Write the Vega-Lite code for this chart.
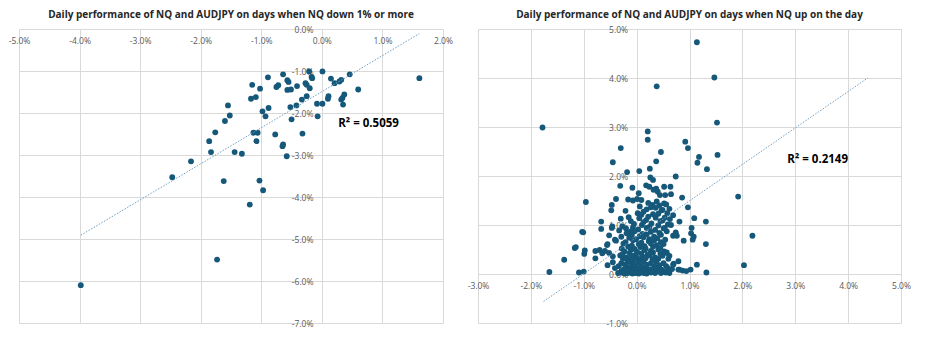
{
  "$schema": "https://vega.github.io/schema/vega-lite/v6.json",
  "background": "white",
  "padding": {"left": 8, "top": 10, "right": 5, "bottom": 5},
  "spacing": 35,
  "bounds": "flush",
  "config": {
    "view": {"stroke": null},
    "axis": {
      "grid": true, "gridColor": "#d9d9d9", "gridWidth": 1,
      "domain": false, "ticks": false, "tickSize": 0,
      "labelColor": "#595959", "labelFont": "Open Sans", "labelFontSize": 8.5,
      "labelOverlap": false, "labelFlush": false, "title": null,
      "labelExpr": "(datum.value < 0 ? '-' : '') + format(abs(datum.value), '.1f') + '%'"
    },
    "title": {"font": "Open Sans", "fontSize": 10, "fontWeight": "bold", "color": "#262626", "anchor": "middle", "frame": "group", "offset": 5}
  },
  "datasets": {
    "down": [
      {"audjpy": 1.61, "nq": -1.17}, {"audjpy": 0.01, "nq": -1.01}, {"audjpy": 0.46, "nq": -1.08}, {"audjpy": 0.15, "nq": -1.18},
      {"audjpy": 0.21, "nq": -1.29}, {"audjpy": 0.29, "nq": -1.25}, {"audjpy": 0.32, "nq": -1.21}, {"audjpy": 0.60, "nq": -1.44},
      {"audjpy": 0.37, "nq": -1.56}, {"audjpy": 0.34, "nq": -1.64}, {"audjpy": 0.32, "nq": -1.68}, {"audjpy": 0.35, "nq": -1.80},
      {"audjpy": 0.11, "nq": -1.60}, {"audjpy": 0.10, "nq": -1.66}, {"audjpy": 0.01, "nq": -1.78}, {"audjpy": -0.08, "nq": -1.78},
      {"audjpy": -0.07, "nq": -2.08}, {"audjpy": -0.21, "nq": -1.01}, {"audjpy": -0.17, "nq": -1.14}, {"audjpy": -0.16, "nq": -1.17},
      {"audjpy": -0.27, "nq": -1.29}, {"audjpy": -0.25, "nq": -1.33}, {"audjpy": -0.20, "nq": -1.41}, {"audjpy": -0.25, "nq": -1.60},
      {"audjpy": -0.33, "nq": -1.68}, {"audjpy": -0.42, "nq": -1.82}, {"audjpy": -0.52, "nq": -1.86}, {"audjpy": -0.50, "nq": -2.15},
      {"audjpy": -0.32, "nq": -2.49}, {"audjpy": -0.41, "nq": -1.36}, {"audjpy": -0.51, "nq": -1.44}, {"audjpy": -0.57, "nq": -1.45},
      {"audjpy": -0.55, "nq": -1.26}, {"audjpy": -0.57, "nq": -1.22}, {"audjpy": -0.64, "nq": -1.08}, {"audjpy": -0.75, "nq": -1.38},
      {"audjpy": -0.72, "nq": -1.34}, {"audjpy": -0.89, "nq": -1.15}, {"audjpy": -1.02, "nq": -1.42}, {"audjpy": -1.15, "nq": -1.33},
      {"audjpy": -1.09, "nq": -1.62}, {"audjpy": -1.17, "nq": -1.66}, {"audjpy": -0.88, "nq": -1.88}, {"audjpy": -0.98, "nq": -1.96},
      {"audjpy": -0.93, "nq": -2.08}, {"audjpy": -0.77, "nq": -2.51}, {"audjpy": -0.64, "nq": -2.75}, {"audjpy": -0.65, "nq": -2.79},
      {"audjpy": -0.58, "nq": -3.03}, {"audjpy": -1.13, "nq": -2.47}, {"audjpy": -1.06, "nq": -2.47}, {"audjpy": -1.08, "nq": -2.67},
      {"audjpy": -1.44, "nq": -2.93}, {"audjpy": -1.32, "nq": -2.97}, {"audjpy": -1.03, "nq": -3.61}, {"audjpy": -0.97, "nq": -3.84},
      {"audjpy": -1.19, "nq": -4.18}, {"audjpy": -1.55, "nq": -1.82}, {"audjpy": -1.52, "nq": -2.06}, {"audjpy": -1.60, "nq": -2.19},
      {"audjpy": -1.76, "nq": -2.46}, {"audjpy": -1.86, "nq": -2.67}, {"audjpy": -1.83, "nq": -2.93}, {"audjpy": -2.16, "nq": -3.15},
      {"audjpy": -2.47, "nq": -3.53}, {"audjpy": -1.62, "nq": -3.62}, {"audjpy": -1.73, "nq": -5.49}, {"audjpy": -3.98, "nq": -6.10}
    ],
    "up": [
      {"audjpy": 1.14, "nq": 4.73}, {"audjpy": 1.47, "nq": 4.01}, {"audjpy": 0.38, "nq": 3.83}, {"audjpy": -1.78, "nq": 2.99},
      {"audjpy": 1.52, "nq": 3.09}, {"audjpy": 0.21, "nq": 2.91}, {"audjpy": 0.21, "nq": 2.74}, {"audjpy": 0.92, "nq": 2.70},
      {"audjpy": 0.97, "nq": 2.57}, {"audjpy": -0.30, "nq": 2.57}, {"audjpy": 0.46, "nq": 2.49}, {"audjpy": 1.53, "nq": 2.43},
      {"audjpy": 1.18, "nq": 2.39}, {"audjpy": -0.45, "nq": 2.28}, {"audjpy": 0.37, "nq": 2.30}, {"audjpy": 1.15, "nq": 2.27},
      {"audjpy": 0.25, "nq": 2.15}, {"audjpy": 1.33, "nq": 2.14}, {"audjpy": 0.05, "nq": 2.10}, {"audjpy": -0.18, "nq": 2.08},
      {"audjpy": 0.74, "nq": 1.99}, {"audjpy": 0.26, "nq": 1.97}, {"audjpy": 0.31, "nq": 1.92}, {"audjpy": -0.31, "nq": 1.80},
      {"audjpy": 0.18, "nq": 1.81}, {"audjpy": -0.08, "nq": 1.76}, {"audjpy": 0.37, "nq": 1.74}, {"audjpy": 0.64, "nq": 1.78},
      {"audjpy": 0.40, "nq": 1.68}, {"audjpy": 0.44, "nq": 1.61}, {"audjpy": 0.04, "nq": 1.65}, {"audjpy": 0.65, "nq": 1.63},
      {"audjpy": 0.86, "nq": 1.56}, {"audjpy": 1.92, "nq": 1.58}, {"audjpy": -0.39, "nq": 1.53}, {"audjpy": -0.16, "nq": 1.52},
      {"audjpy": -0.07, "nq": 1.50}, {"audjpy": 0.01, "nq": 1.53}, {"audjpy": 0.09, "nq": 1.51}, {"audjpy": 0.32, "nq": 1.72},
      {"audjpy": 0.52, "nq": 1.78}, {"audjpy": 0.54, "nq": 1.61}, {"audjpy": 0.24, "nq": 1.78},
      {"audjpy": -0.96, "nq": 1.47}, {"audjpy": 0.22, "nq": 1.45}, {"audjpy": 0.38, "nq": 1.48}, {"audjpy": 0.52, "nq": 1.44}, {"audjpy": 0.30, "nq": 1.41},
      {"audjpy": -0.47, "nq": 1.41}, {"audjpy": 0.06, "nq": 1.38}, {"audjpy": 0.27, "nq": 1.36}, {"audjpy": 0.43, "nq": 1.40}, {"audjpy": 0.56, "nq": 1.42}, {"audjpy": 0.97, "nq": 1.36},
      {"audjpy": -0.48, "nq": 1.30}, {"audjpy": 0.62, "nq": 1.33}, {"audjpy": 0.19, "nq": 1.32}, {"audjpy": 0.36, "nq": 1.35}, {"audjpy": 0.49, "nq": 1.31},
      {"audjpy": -0.21, "nq": 1.29}, {"audjpy": 0.02, "nq": 1.24}, {"audjpy": 0.13, "nq": 1.27}, {"audjpy": 0.31, "nq": 1.22}, {"audjpy": 0.47, "nq": 1.30}, {"audjpy": 0.58, "nq": 1.24},
      {"audjpy": -0.15, "nq": 1.16}, {"audjpy": 0.09, "nq": 1.21}, {"audjpy": 0.22, "nq": 1.17}, {"audjpy": 0.41, "nq": 1.23}, {"audjpy": 0.53, "nq": 1.15}, {"audjpy": 0.69, "nq": 1.20},
      {"audjpy": -0.30, "nq": 1.13}, {"audjpy": -0.11, "nq": 1.08}, {"audjpy": 0.05, "nq": 1.14}, {"audjpy": 0.18, "nq": 1.10}, {"audjpy": 0.36, "nq": 1.15}, {"audjpy": 0.49, "nq": 1.09}, {"audjpy": 0.63, "nq": 1.12}, {"audjpy": 1.09, "nq": 1.14},
      {"audjpy": -0.67, "nq": 1.07}, {"audjpy": -0.05, "nq": 1.02}, {"audjpy": 0.13, "nq": 1.06}, {"audjpy": 0.28, "nq": 1.03}, {"audjpy": 0.45, "nq": 1.08}, {"audjpy": 0.59, "nq": 1.01}, {"audjpy": 0.81, "nq": 1.07}, {"audjpy": 1.31, "nq": 1.07},
      {"audjpy": -0.46, "nq": 0.97}, {"audjpy": -0.07, "nq": 0.95}, {"audjpy": 0.10, "nq": 1.00}, {"audjpy": 0.24, "nq": 0.96}, {"audjpy": 0.41, "nq": 0.99}, {"audjpy": 0.53, "nq": 0.94}, {"audjpy": 0.65, "nq": 1.00}, {"audjpy": -0.27, "nq": 0.97},
      {"audjpy": -0.67, "nq": 0.92}, {"audjpy": -0.47, "nq": 0.94}, {"audjpy": -0.33, "nq": 0.89}, {"audjpy": -0.20, "nq": 0.93}, {"audjpy": -0.11, "nq": 0.87}, {"audjpy": 0.03, "nq": 0.91}, {"audjpy": 0.19, "nq": 0.94}, {"audjpy": 0.35, "nq": 0.90}, {"audjpy": 0.51, "nq": 0.93}, {"audjpy": 1.04, "nq": 0.94},
      {"audjpy": -1.03, "nq": 0.86}, {"audjpy": -1.01, "nq": 0.85}, {"audjpy": -0.19, "nq": 0.83}, {"audjpy": -0.04, "nq": 0.87}, {"audjpy": 0.11, "nq": 0.82}, {"audjpy": 0.27, "nq": 0.86}, {"audjpy": 0.43, "nq": 0.84}, {"audjpy": 0.57, "nq": 0.87}, {"audjpy": 0.74, "nq": 0.85}, {"audjpy": 1.03, "nq": 0.83},
      {"audjpy": -0.52, "nq": 0.79}, {"audjpy": -0.29, "nq": 0.76}, {"audjpy": -0.09, "nq": 0.80}, {"audjpy": 0.06, "nq": 0.77}, {"audjpy": 0.19, "nq": 0.81}, {"audjpy": 0.33, "nq": 0.76}, {"audjpy": 0.46, "nq": 0.80}, {"audjpy": 0.69, "nq": 0.78}, {"audjpy": 0.76, "nq": 0.78}, {"audjpy": 2.19, "nq": 0.78},
      {"audjpy": -0.41, "nq": 0.70}, {"audjpy": -0.14, "nq": 0.74}, {"audjpy": -0.01, "nq": 0.71}, {"audjpy": 0.13, "nq": 0.75}, {"audjpy": 0.24, "nq": 0.71}, {"audjpy": 0.39, "nq": 0.73}, {"audjpy": 0.54, "nq": 0.70}, {"audjpy": 1.06, "nq": 0.70}, {"audjpy": 1.08, "nq": 0.76},
      {"audjpy": -0.39, "nq": 0.68}, {"audjpy": -0.21, "nq": 0.65}, {"audjpy": -0.07, "nq": 0.69}, {"audjpy": 0.09, "nq": 0.64}, {"audjpy": 0.23, "nq": 0.67}, {"audjpy": 0.33, "nq": 0.69}, {"audjpy": 0.46, "nq": 0.65}, {"audjpy": 0.89, "nq": 0.68},
      {"audjpy": -0.56, "nq": 0.59}, {"audjpy": -0.55, "nq": 0.61}, {"audjpy": -0.25, "nq": 0.62}, {"audjpy": -0.09, "nq": 0.58}, {"audjpy": 0.04, "nq": 0.61}, {"audjpy": 0.15, "nq": 0.57}, {"audjpy": 0.27, "nq": 0.62}, {"audjpy": 0.38, "nq": 0.59}, {"audjpy": 0.51, "nq": 0.61}, {"audjpy": 1.31, "nq": 0.61},
      {"audjpy": -1.17, "nq": 0.53}, {"audjpy": -1.15, "nq": 0.55}, {"audjpy": -0.28, "nq": 0.52}, {"audjpy": -0.16, "nq": 0.56}, {"audjpy": -0.04, "nq": 0.51}, {"audjpy": 0.07, "nq": 0.55}, {"audjpy": 0.17, "nq": 0.52}, {"audjpy": 0.31, "nq": 0.56}, {"audjpy": 0.45, "nq": 0.53},
      {"audjpy": -0.98, "nq": 0.48}, {"audjpy": -0.78, "nq": 0.47}, {"audjpy": -0.70, "nq": 0.49}, {"audjpy": -0.60, "nq": 0.47}, {"audjpy": -0.23, "nq": 0.46}, {"audjpy": -0.11, "nq": 0.50}, {"audjpy": 0.01, "nq": 0.45}, {"audjpy": 0.15, "nq": 0.49}, {"audjpy": 0.27, "nq": 0.47}, {"audjpy": 0.41, "nq": 0.50}, {"audjpy": 0.52, "nq": 0.46}, {"audjpy": 0.57, "nq": 0.44},
      {"audjpy": -0.99, "nq": 0.41}, {"audjpy": -0.65, "nq": 0.42}, {"audjpy": -0.52, "nq": 0.43}, {"audjpy": -0.27, "nq": 0.40}, {"audjpy": -0.13, "nq": 0.43}, {"audjpy": -0.02, "nq": 0.39}, {"audjpy": 0.09, "nq": 0.42}, {"audjpy": 0.21, "nq": 0.40}, {"audjpy": 0.31, "nq": 0.44}, {"audjpy": 0.45, "nq": 0.41}, {"audjpy": 0.56, "nq": 0.43},
      {"audjpy": -0.45, "nq": 0.36}, {"audjpy": -0.31, "nq": 0.38}, {"audjpy": -0.19, "nq": 0.34}, {"audjpy": -0.09, "nq": 0.37}, {"audjpy": 0.01, "nq": 0.33}, {"audjpy": 0.11, "nq": 0.36}, {"audjpy": 0.25, "nq": 0.38}, {"audjpy": 0.35, "nq": 0.34}, {"audjpy": 0.49, "nq": 0.37}, {"audjpy": 0.62, "nq": 0.37},
      {"audjpy": -0.78, "nq": 0.32}, {"audjpy": -1.37, "nq": 0.29}, {"audjpy": -0.26, "nq": 0.31}, {"audjpy": -0.14, "nq": 0.28}, {"audjpy": -0.05, "nq": 0.30}, {"audjpy": 0.07, "nq": 0.27}, {"audjpy": 0.17, "nq": 0.32}, {"audjpy": 0.30, "nq": 0.29}, {"audjpy": 0.41, "nq": 0.31}, {"audjpy": 0.60, "nq": 0.31},
      {"audjpy": -0.45, "nq": 0.24}, {"audjpy": -0.29, "nq": 0.22}, {"audjpy": -0.17, "nq": 0.25}, {"audjpy": -0.08, "nq": 0.21}, {"audjpy": 0.03, "nq": 0.24}, {"audjpy": 0.13, "nq": 0.26}, {"audjpy": 0.27, "nq": 0.22}, {"audjpy": 0.37, "nq": 0.25}, {"audjpy": 0.51, "nq": 0.22}, {"audjpy": 0.79, "nq": 0.26}, {"audjpy": 0.70, "nq": 0.21},
      {"audjpy": -0.55, "nq": 0.18}, {"audjpy": -0.34, "nq": 0.16}, {"audjpy": -0.21, "nq": 0.19}, {"audjpy": -0.11, "nq": 0.15}, {"audjpy": -0.03, "nq": 0.18}, {"audjpy": 0.09, "nq": 0.16}, {"audjpy": 0.19, "nq": 0.19}, {"audjpy": 0.34, "nq": 0.15}, {"audjpy": 0.43, "nq": 0.18}, {"audjpy": 0.56, "nq": 0.16}, {"audjpy": 0.69, "nq": 0.19}, {"audjpy": 1.14, "nq": 0.19}, {"audjpy": 2.03, "nq": 0.18},
      {"audjpy": -0.41, "nq": 0.12}, {"audjpy": -0.24, "nq": 0.10}, {"audjpy": -0.16, "nq": 0.13}, {"audjpy": -0.04, "nq": 0.09}, {"audjpy": 0.04, "nq": 0.12}, {"audjpy": 0.11, "nq": 0.10}, {"audjpy": 0.18, "nq": 0.13}, {"audjpy": 0.27, "nq": 0.10}, {"audjpy": 0.39, "nq": 0.12}, {"audjpy": 0.47, "nq": 0.09}, {"audjpy": 0.59, "nq": 0.12}, {"audjpy": 0.67, "nq": 0.10},
      {"audjpy": -0.29, "nq": 0.06}, {"audjpy": -0.19, "nq": 0.08}, {"audjpy": -0.09, "nq": 0.05}, {"audjpy": -0.01, "nq": 0.07}, {"audjpy": 0.07, "nq": 0.05}, {"audjpy": 0.13, "nq": 0.07}, {"audjpy": 0.23, "nq": 0.05}, {"audjpy": 0.32, "nq": 0.08}, {"audjpy": 0.41, "nq": 0.06}, {"audjpy": 0.51, "nq": 0.05}, {"audjpy": 0.79, "nq": 0.09}, {"audjpy": 0.87, "nq": 0.07}, {"audjpy": 0.81, "nq": 0.09},
      {"audjpy": -1.65, "nq": 0.04}, {"audjpy": -1.09, "nq": 0.03}, {"audjpy": -1.00, "nq": 0.05}, {"audjpy": -0.35, "nq": 0.02}, {"audjpy": -0.28, "nq": 0.03}, {"audjpy": -0.22, "nq": 0.01}, {"audjpy": -0.17, "nq": 0.02}, {"audjpy": -0.12, "nq": 0.03}, {"audjpy": -0.08, "nq": 0.01}, {"audjpy": -0.04, "nq": 0.02}, {"audjpy": 0.00, "nq": 0.02}, {"audjpy": 0.04, "nq": 0.01}, {"audjpy": 0.09, "nq": 0.03}, {"audjpy": 0.14, "nq": 0.02}, {"audjpy": 0.19, "nq": 0.01}, {"audjpy": 0.27, "nq": 0.03}, {"audjpy": 0.35, "nq": 0.02}, {"audjpy": 0.46, "nq": 0.02}, {"audjpy": 0.55, "nq": 0.03}, {"audjpy": 0.62, "nq": 0.02}, {"audjpy": 0.94, "nq": 0.06}, {"audjpy": 1.02, "nq": 0.09}, {"audjpy": 1.32, "nq": 0.03}
    ],
    "trendDown": [{"audjpy": -3.98, "nq": -4.91}, {"audjpy": 1.61, "nq": -0.11}],
    "trendUp": [{"audjpy": -1.76, "nq": -0.56}, {"audjpy": 4.37, "nq": 4.0}]
  },
  "hconcat": [
    {
      "width": 424, "height": 294,
      "title": {"text": "Daily performance of NQ and AUDJPY on days when NQ down 1% or more"},
      "layer": [
        {
          "data": {"name": "down"},
          "mark": {"type": "circle", "size": 34, "color": "#16587a", "opacity": 1},
          "encoding": {
            "x": {"field": "audjpy", "type": "quantitative", "scale": {"domain": [-5, 2], "nice": false, "zero": false},
                  "axis": {"orient": "bottom", "offset": -294, "labelPadding": 7, "values": [-5, -4, -3, -2, -1, 0, 1, 2]}},
            "y": {"field": "nq", "type": "quantitative", "scale": {"domain": [-7, 0], "nice": false, "zero": false},
                  "axis": {"orient": "left", "offset": -303, "labelPadding": 9, "values": [-7, -6, -5, -4, -3, -2, -1, 0]}}
          }
        },
        {
          "data": {"name": "trendDown"},
          "mark": {"type": "line", "color": "#6f9fc2", "strokeWidth": 1, "strokeDash": [1.5, 1.5]},
          "encoding": {"x": {"field": "audjpy", "type": "quantitative"}, "y": {"field": "nq", "type": "quantitative"}}
        },
        {
          "data": {"values": [{"label": "R² = 0.5059"}]},
          "mark": {"type": "text", "align": "left", "baseline": "middle", "font": "Open Sans", "fontSize": 11.5, "fontWeight": "bold", "color": "#000000"},
          "encoding": {"x": {"datum": 0.27, "type": "quantitative"}, "y": {"datum": -2.27, "type": "quantitative"}, "text": {"field": "label"}}
        }
      ]
    },
    {
      "width": 423, "height": 294,
      "title": {"text": "Daily performance of NQ and AUDJPY on days when NQ up on the day"},
      "layer": [
        {
          "data": {"name": "up"},
          "mark": {"type": "circle", "size": 34, "color": "#16587a", "opacity": 1},
          "encoding": {
            "x": {"field": "audjpy", "type": "quantitative", "scale": {"domain": [-3, 5], "nice": false, "zero": false},
                  "axis": {"orient": "bottom", "offset": -49, "labelPadding": 7, "values": [-3, -2, -1, 0, 1, 2, 3, 4, 5]}},
            "y": {"field": "nq", "type": "quantitative", "scale": {"domain": [-1, 5], "nice": false, "zero": false},
                  "axis": {"orient": "left", "offset": -158.6, "labelPadding": 9, "values": [-1, 0, 1, 2, 3, 4, 5]}}
          }
        },
        {
          "data": {"name": "trendUp"},
          "mark": {"type": "line", "color": "#6f9fc2", "strokeWidth": 1, "strokeDash": [1.5, 1.5]},
          "encoding": {"x": {"field": "audjpy", "type": "quantitative"}, "y": {"field": "nq", "type": "quantitative"}}
        },
        {
          "data": {"values": [{"label": "R² = 0.2149"}]},
          "mark": {"type": "text", "align": "left", "baseline": "middle", "font": "Open Sans", "fontSize": 11.5, "fontWeight": "bold", "color": "#000000"},
          "encoding": {"x": {"datum": 2.85, "type": "quantitative"}, "y": {"datum": 2.33, "type": "quantitative"}, "text": {"field": "label"}}
        }
      ]
    }
  ]
}
